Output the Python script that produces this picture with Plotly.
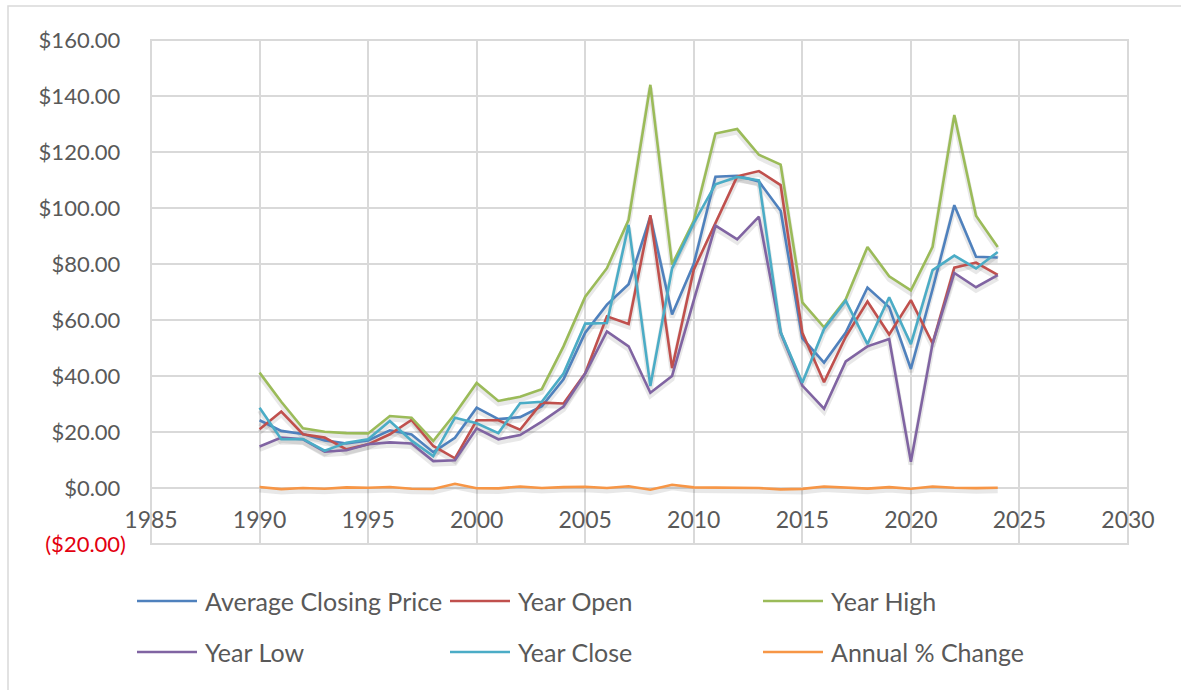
import plotly.graph_objects as go

# ---- data -------------------------------------------------------------
years = list(range(1990, 2025))

avg_close = [24.2, 20.4, 19.3, 17.0, 15.9, 17.0, 20.6, 19.1, 12.8, 17.9,
             28.7, 24.6, 25.3, 29.2, 38.8, 55.5, 65.5, 72.8, 96.9, 62.0,
             80.0, 111.2, 111.5, 109.5, 99.0, 53.5, 44.8, 55.5, 71.6, 64.6,
             42.5, 71.0, 101.0, 82.6, 82.3]

year_open = [21.0, 27.3, 19.2, 18.0, 13.8, 15.6, 19.2, 24.3, 15.0, 10.6,
             24.2, 24.2, 20.8, 30.5, 30.2, 41.0, 61.3, 58.6, 97.4, 42.8,
             78.0, 94.5, 111.3, 113.2, 108.2, 55.4, 37.8, 54.0, 66.6, 54.8,
             67.1, 51.6, 78.7, 80.5, 76.1]

year_high = [41.2, 30.8, 21.3, 20.1, 19.6, 19.5, 25.7, 25.1, 16.8, 26.5,
             37.5, 31.1, 32.6, 35.3, 50.6, 68.3, 78.5, 95.8, 144.0, 79.8,
             95.4, 126.6, 128.2, 119.0, 115.5, 66.3, 57.4, 67.4, 86.1, 75.6,
             70.6, 86.1, 133.2, 97.2, 86.1]

year_low = [14.8, 18.0, 17.4, 13.0, 13.5, 15.6, 16.3, 15.9, 9.6, 9.9,
            21.3, 17.4, 18.9, 23.7, 29.1, 40.9, 55.9, 50.6, 34.0, 40.0,
            67.0, 93.7, 88.8, 96.9, 55.5, 36.6, 28.3, 45.2, 50.6, 53.2,
            9.4, 51.6, 76.8, 71.7, 76.0]

year_close = [28.7, 17.4, 17.5, 13.3, 16.2, 17.4, 23.9, 16.9, 11.4, 25.1,
              23.1, 19.6, 30.3, 30.8, 40.9, 58.7, 58.9, 94.0, 36.4, 78.4,
              94.6, 108.5, 111.1, 109.9, 55.7, 37.6, 56.8, 66.9, 51.4, 68.1,
              51.4, 77.8, 83.0, 78.4, 84.3]

annual_change = [0.35, -0.39, 0.01, -0.25, 0.22, 0.07, 0.37, -0.29, -0.34, 1.50,
                 -0.09, -0.14, 0.54, 0.01, 0.33, 0.43, 0.01, 0.60, -0.61, 1.16,
                 0.21, 0.14, 0.03, -0.01, -0.49, -0.32, 0.51, 0.18, -0.23, 0.32,
                 -0.25, 0.51, 0.07, -0.06, 0.08]

series_names = ["Average Closing Price", "Year Open", "Year High",
                "Year Low", "Year Close", "Annual % Change"]
series_values = [avg_close, year_open, year_high, year_low, year_close, annual_change]
series_colors = ["#4F81BD", "#C0504D", "#9BBB59", "#8064A2", "#4BACC6", "#F79646"]

y_tick_vals = [-20, 0, 20, 40, 60, 80, 100, 120, 140, 160]
y_tick_labels = ["($20.00)", "$0.00", "$20.00", "$40.00", "$60.00",
                 "$80.00", "$100.00", "$120.00", "$140.00", "$160.00"]
x_tick_vals = [1985, 1990, 1995, 2000, 2005, 2010, 2015, 2020, 2025, 2030]
x_tick_labels = ["1985", "1990", "1995", "2000", "2005", "2010",
                 "2015", "2020", "2025", "2030"]

# ---- geometry ---------------------------------------------------------
W, H = 1181, 690
ML, MR, MT, MB = 151, 53, 40, 146
PW, PH = W - ML - MR, H - MT - MB
Y_MIN, Y_MAX = -20, 160
FONT = "Lato, Carlito, Calibri, sans-serif"
TEXT = "#595959"
GRID = "#D9D9D9"


def px_x(px):
    return (px - ML) / PW


def px_y(py):
    return (H - MB - py) / PH


# the shadow axis is shifted so the same values land a few pixels lower
shadow_shift = 3 * (Y_MAX - Y_MIN) / PH

fig = go.Figure()

# soft drop shadows under every series (primary, hidden y axis)
for name, vals in zip(series_names, series_values):
    fig.add_trace(go.Scatter(
        x=years, y=vals, mode="lines", yaxis="y", hoverinfo="skip",
        line=dict(color="rgba(0,0,0,0.09)", width=5), showlegend=False))

# the series themselves on the visible value axis
for name, vals, col in zip(series_names, series_values, series_colors):
    fig.add_trace(go.Scatter(
        x=years, y=vals, mode="lines", name=name, yaxis="y2",
        line=dict(color=col, width=2.6), showlegend=False))

tick_text = []
for v, lab in zip(y_tick_vals, y_tick_labels):
    if v < 0:
        tick_text.append(f"<span style='color:#E3000F'>{lab}</span>")
    else:
        tick_text.append(lab + "\u00a0")

fig.update_layout(
    width=W, height=H,
    margin=dict(l=ML, r=MR, t=MT, b=MB),
    paper_bgcolor="white", plot_bgcolor="white",
    font=dict(family=FONT, size=22, color=TEXT),
    xaxis=dict(range=[1985, 2030], tickvals=x_tick_vals, ticktext=x_tick_labels,
               showgrid=True, gridcolor=GRID, gridwidth=2, zeroline=False,
               showline=False, ticks="", ticklabelposition="inside",
               ticklabeloverflow="allow", ticklabelstandoff=8,
               tickfont=dict(size=23, color=TEXT)),
    yaxis=dict(range=[Y_MIN + shadow_shift, Y_MAX + shadow_shift],
               visible=False, showgrid=False, zeroline=False),
    yaxis2=dict(range=[Y_MIN, Y_MAX], overlaying="y", side="left",
                tickvals=y_tick_vals, ticktext=tick_text,
                showgrid=True, gridcolor=GRID, gridwidth=2, zeroline=False,
                showline=False, ticks="", ticklabelstandoff=24,
                tickfont=dict(size=22, color=TEXT)),
)

shapes = [
    # plot-area frame
    dict(type="rect", xref="paper", yref="paper", x0=0, x1=1, y0=0, y1=1,
         line=dict(color=GRID, width=2), layer="below"),
    # chart-area frame
    dict(type="rect", xref="paper", yref="paper",
         x0=px_x(8), x1=px_x(W + 10), y0=px_y(H + 10), y1=px_y(6),
         line=dict(color="#D9D9D9", width=1.5), layer="below"),
]
annotations = []

# legend: three columns, two rows
for i, (name, col) in enumerate(zip(series_names, series_colors)):
    c, r = i % 3, i // 3
    x0 = 137 + 313 * c
    yy = 601 + 51 * r
    shapes.append(dict(type="line", xref="paper", yref="paper",
                       x0=px_x(x0), x1=px_x(x0 + 60), y0=px_y(yy), y1=px_y(yy),
                       line=dict(color=col, width=2.6)))
    annotations.append(dict(xref="paper", yref="paper", x=px_x(x0 + 66), y=px_y(yy),
                            xanchor="left", yanchor="middle", showarrow=False,
                            text=name, font=dict(family=FONT, size=25, color=TEXT)))

fig.update_layout(shapes=shapes, annotations=annotations)

fig.write_html("out.html")
